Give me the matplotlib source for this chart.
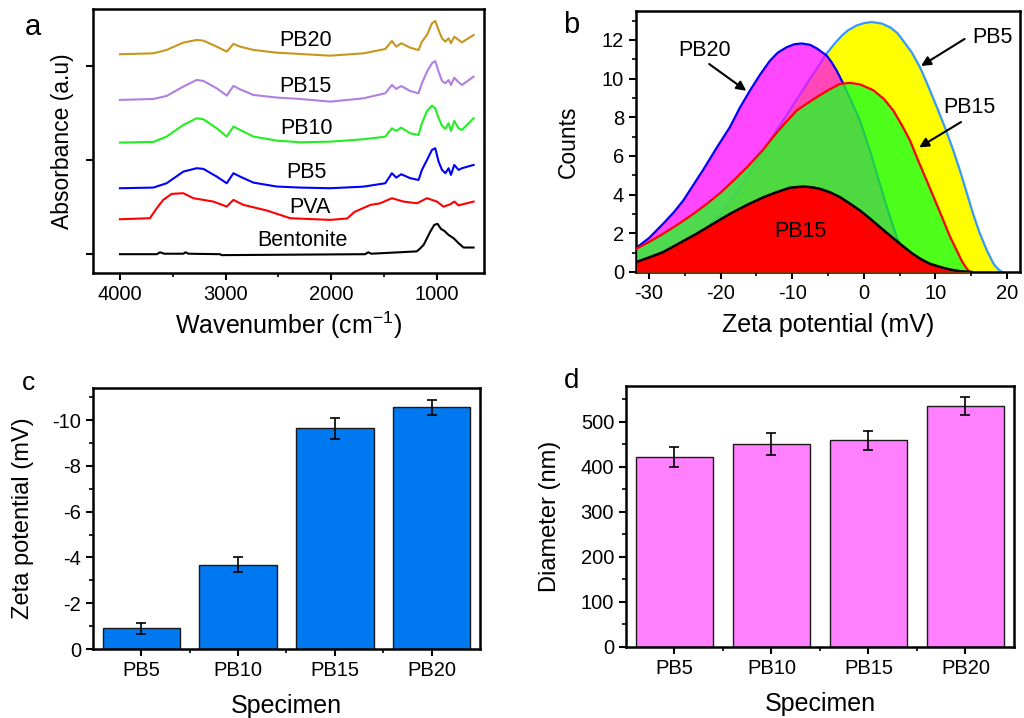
import numpy as np
import matplotlib
matplotlib.use("Agg")
import matplotlib.pyplot as plt
from matplotlib.ticker import MultipleLocator, FixedLocator, NullFormatter

plt.rcParams['font.family'] = ['Liberation Sans', 'DejaVu Sans']
plt.rcParams['axes.unicode_minus'] = False
plt.rcParams['mathtext.default'] = 'regular'

# ---- panel a: FTIR spectra (offset, arbitrary units) ----
wn_pb = [4000, 3684, 3558, 3400, 3274, 3210, 3084, 2989, 2926, 2863, 2737, 2516, 2295,
         2010, 1695, 1489, 1426, 1385, 1338, 1253, 1174, 1142, 1094, 1047, 1016, 984,
         952, 920, 890, 867, 836, 795, 763, 653]
ab_pb20 = [2.128, 2.138, 2.174, 2.252, 2.280, 2.273, 2.209, 2.156, 2.238, 2.209, 2.174, 2.145, 2.131,
           2.113, 2.138, 2.184, 2.269, 2.209, 2.245, 2.198, 2.173, 2.262, 2.333, 2.457, 2.482, 2.386,
           2.298, 2.262, 2.298, 2.245, 2.315, 2.280, 2.255, 2.333]
ab_pb15 = [1.642, 1.652, 1.684, 1.784, 1.855, 1.844, 1.766, 1.688, 1.791, 1.755, 1.695, 1.667, 1.652,
           1.624, 1.659, 1.713, 1.801, 1.759, 1.790, 1.737, 1.713, 1.819, 1.943, 2.032, 2.056, 1.943,
           1.844, 1.819, 1.854, 1.801, 1.879, 1.830, 1.801, 1.890]
ab_pb10 = [1.188, 1.195, 1.252, 1.376, 1.447, 1.436, 1.340, 1.252, 1.358, 1.323, 1.252, 1.209, 1.191,
           1.198, 1.223, 1.251, 1.340, 1.312, 1.347, 1.287, 1.269, 1.394, 1.524, 1.581, 1.553, 1.447,
           1.368, 1.333, 1.394, 1.312, 1.418, 1.340, 1.323, 1.447]
ab_pb5 = [0.702, 0.709, 0.755, 0.879, 0.915, 0.908, 0.826, 0.755, 0.862, 0.826, 0.762, 0.720, 0.709,
          0.702, 0.719, 0.755, 0.862, 0.815, 0.851, 0.809, 0.790, 0.897, 1.003, 1.110, 1.128, 0.985,
          0.897, 0.862, 0.915, 0.844, 0.950, 0.897, 0.915, 0.950]
wn_pva = [4000, 3716, 3652, 3590, 3510, 3400, 3305, 3116, 2989, 2926, 2832, 2610, 2389, 2010,
          1850, 1780, 1700, 1631, 1537, 1426, 1316, 1189, 1094, 1000, 937, 874, 836, 795, 653]
ab_pva = [0.372, 0.383, 0.489, 0.578, 0.642, 0.649, 0.596, 0.560, 0.507, 0.578, 0.525, 0.465, 0.383, 0.365,
          0.380, 0.450, 0.490, 0.524, 0.542, 0.596, 0.560, 0.542, 0.596, 0.560, 0.506, 0.531, 0.560, 0.520, 0.560]
wn_ben = [4000, 3650, 3620, 3580, 3400, 3380, 3350, 3050, 3040, 1680, 1650, 1620, 1190, 1160,
          1126, 1094, 1063, 1025, 994, 962, 930, 890, 842, 795, 748, 653]
ab_ben = [0.0, 0.0, 0.02, 0.005, 0.005, 0.02, 0.005, 0.0, -0.01, 0.0, 0.02, 0.005, 0.03, 0.06,
          0.099, 0.170, 0.240, 0.312, 0.323, 0.269, 0.248, 0.205, 0.170, 0.117, 0.071, 0.071]

# ---- panel b: zeta potential distributions ----
zx_pb5 = [-31.8, -28, -24, -20, -18, -16.35, -14.5, -13, -11.5, -10, -8.7, -7.5, -6.4, -5.4, -4,
          -3, -2.2, -1, 0, 1.1, 2.5, 3.7, 4.7, 5.5, 6.7, 7.85, 9, 10.2, 11.4, 12.5, 13.5, 14.4,
          15.3, 16.2, 17.2, 18.1, 18.6, 19.0, 19.3]
zc_pb5 = [0.4, 0.8, 1.6, 3.0, 3.9, 4.9, 6.0, 6.83, 7.7, 8.55, 9.3, 10.0, 10.6, 11.2, 11.85,
          12.25, 12.5, 12.75, 12.87, 12.93, 12.85, 12.65, 12.35, 11.96, 11.35, 10.58, 9.6, 8.52, 7.4, 6.28, 5.15, 4.05,
          2.95, 1.98, 1.1, 0.43, 0.2, 0.07, 0.0]
zx_pb20 = [-31.72, -30, -28, -26.5, -25.2, -23.8, -22.4, -20.5, -18.7, -17.3, -15.9, -14.5, -13.1,
           -12, -10.8, -9.7, -8.67, -7.5, -6.5, -5.18, -4.5, -3.78, -2.86, -1.7, -0.53, 0.8, 2.03,
           3.3, 4.59, 5.5, 6.5, 8, 10, 11]
zc_pb20 = [1.26, 1.75, 2.5, 3.1, 3.7, 4.5, 5.3, 6.45, 7.49, 8.5, 9.38, 10.2, 10.93,
           11.35, 11.62, 11.78, 11.82, 11.75, 11.55, 11.19, 10.85, 10.41, 9.73, 8.8, 7.83, 6.35, 4.82,
           3.25, 1.81, 1.1, 0.65, 0.25, 0.05, 0.0]
zx_pb15 = [-31.72, -30, -28, -26, -24, -22, -20, -18, -16.35, -14, -12.64, -11, -9.37, -8, -6.58,
           -5, -3.32, -1.9, -0.5, 1.33, 2.8, 4.12, 5.3, 6.45, 7.6, 8.77, 10, 11.1, 12, 12.96,
           13.7, 14.37, 14.8]
zc_pb15 = [1.21, 1.55, 1.98, 2.45, 2.95, 3.5, 4.1, 4.8, 5.4, 6.35, 7.0, 7.7, 8.35, 8.7, 9.04,
           9.4, 9.73, 9.78, 9.7, 9.4, 8.95, 8.35, 7.6, 6.8, 5.75, 4.73, 3.65, 2.67, 1.85, 1.12,
           0.55, 0.17, 0.0]
zx_pb15b = [-31.72, -30, -28, -25.7, -23.34, -21, -18.69, -16.3, -14.0, -12, -10.3, -8.45, -7.2,
            -6.12, -4.7, -3.32, -2, -0.53, 0.9, 2.26, 3.7, 5.06, 6.5, 7.85, 9.2, 10.65, 12, 13.4, 15.0]
zc_pb15b = [0.52, 0.75, 1.03, 1.5, 1.98, 2.5, 3.01, 3.47, 3.87, 4.15, 4.36, 4.42, 4.38,
            4.30, 4.12, 3.87, 3.55, 3.18, 2.75, 2.32, 1.87, 1.46, 1.03, 0.69, 0.43, 0.26, 0.13, 0.04, 0.0]

# ---- panels c, d ----
specimens = ['PB5', 'PB10', 'PB15', 'PB20']
zeta = [-0.90, -3.68, -9.64, -10.55]
zeta_err = [0.25, 0.33, 0.46, 0.33]
diam = [423, 451, 459, 536]
diam_err = [22, 24, 22, 20]

fig = plt.figure(figsize=(10.24, 7.18), dpi=100)
ax_a = fig.add_axes([0.0908, 0.6198, 0.3818, 0.3677])
ax_b = fig.add_axes([0.6211, 0.6212, 0.375, 0.3635])
ax_c = fig.add_axes([0.0908, 0.0961, 0.3779, 0.3635])
ax_d = fig.add_axes([0.6113, 0.0989, 0.3789, 0.3635])

tick_fs = 14.5
ann_fs = 15.5
for ax in (ax_a, ax_b, ax_c, ax_d):
    for s in ax.spines.values():
        s.set_linewidth(1.8)
    ax.tick_params(which='major', direction='out', length=5, width=1.5, labelsize=tick_fs)
    ax.tick_params(which='minor', direction='out', length=3, width=1.2)

# panel a
ax_a.plot(wn_pb, ab_pb20, color='#C8961E', lw=1.5)
ax_a.plot(wn_pb, ab_pb15, color='#B07FE0', lw=1.5)
ax_a.plot(wn_pb, ab_pb10, color='#22EE22', lw=1.5)
ax_a.plot(wn_pb, ab_pb5, color='#0000FF', lw=1.5)
ax_a.plot(wn_pva, ab_pva, color='#FF0000', lw=1.5)
ax_a.plot(wn_ben, ab_ben, color='black', lw=1.5)
labs_a = [('PB20', 2247, 2.27), ('PB15', 2247, 1.79), ('PB10', 2238, 1.34),
          ('PB5', 2238, 0.87), ('PVA', 2200, 0.50), ('Bentonite', 2269, 0.15)]
for t, x, y in labs_a:
    ax_a.text(x, y, t, fontsize=ann_fs, ha='center', va='center')
ax_a.set_xlim(4255, 555)
ax_a.set_ylim(-0.2, 2.61)
ax_a.xaxis.set_major_locator(MultipleLocator(1000))
ax_a.xaxis.set_minor_locator(MultipleLocator(500))
ax_a.yaxis.set_major_locator(FixedLocator([0, 1, 2]))
ax_a.yaxis.set_major_formatter(NullFormatter())
ax_a.set_xlabel('Wavenumber (cm$^{-1}$)', fontsize=18, labelpad=4)
ax_a.set_ylabel('Absorbance (a.u)', fontsize=16.5, labelpad=5)

# panel b
ax_b.fill_between(zx_pb5, zc_pb5, color='#FFFF00', lw=0, zorder=1)
ax_b.plot(zx_pb5, zc_pb5, color='#3399FF', lw=1.6, zorder=1.1)
ax_b.fill_between(zx_pb20, zc_pb20, color='#FF00FF', alpha=0.72, lw=0, zorder=2)
ax_b.plot(zx_pb20, zc_pb20, color='#0000FF', lw=1.6, zorder=2.1)
ax_b.fill_between(zx_pb15, zc_pb15, color='#22FF22', alpha=0.8, lw=0, zorder=3)
ax_b.plot(zx_pb15, zc_pb15, color='#FF0000', lw=1.6, zorder=3.1)
ax_b.fill_between(zx_pb15b, zc_pb15b, color='#FF0000', lw=0, zorder=4)
ax_b.plot(zx_pb15b, zc_pb15b, color='black', lw=1.8, zorder=4.1)
ax_b.set_xlim(-31.8, 21.8)
ax_b.set_ylim(0, 13.5)
ax_b.xaxis.set_major_locator(MultipleLocator(10))
ax_b.xaxis.set_minor_locator(MultipleLocator(5))
ax_b.yaxis.set_major_locator(MultipleLocator(2))
ax_b.yaxis.set_minor_locator(MultipleLocator(1))
ax_b.set_xlabel('Zeta potential (mV)', fontsize=18, labelpad=7)
ax_b.set_ylabel('Counts', fontsize=16.5, labelpad=16)
arr = dict(arrowstyle='-|>', color='black', lw=1.5, mutation_scale=14)
ax_b.text(-22.2, 11.45, 'PB20', fontsize=ann_fs, ha='center', va='center', zorder=6)
ax_b.annotate('', xy=(-16.1, 9.29), xytext=(-21.9, 10.84), arrowprops=arr, zorder=6)
ax_b.text(17.9, 12.13, 'PB5', fontsize=ann_fs, ha='center', va='center', zorder=6)
ax_b.annotate('', xy=(7.66, 10.58), xytext=(14.4, 12.13), arrowprops=arr, zorder=6)
ax_b.text(14.8, 8.52, 'PB15', fontsize=ann_fs, ha='center', va='center', zorder=6)
ax_b.annotate('', xy=(7.39, 6.37), xytext=(13.9, 7.83), arrowprops=arr, zorder=6)
ax_b.text(-8.9, 2.07, 'PB15', fontsize=ann_fs, ha='center', va='center', zorder=6)

# panel c
pos = np.arange(1, len(specimens) + 1)
ax_c.bar(pos, zeta, width=0.8, color='#0078F0', edgecolor='#1a1a1a', lw=1.0,
         yerr=zeta_err, capsize=3.5, error_kw=dict(elinewidth=1.2, capthick=1.2))
ax_c.set_xlim(0.5, 4.5)
ax_c.set_ylim(0, -11.4)
ax_c.set_xticks(pos)
ax_c.set_xticklabels(specimens)
ax_c.xaxis.set_minor_locator(FixedLocator([1.5, 2.5, 3.5]))
ax_c.yaxis.set_major_locator(MultipleLocator(2))
ax_c.yaxis.set_minor_locator(MultipleLocator(1))
ax_c.set_xlabel('Specimen', fontsize=18, labelpad=10)
ax_c.set_ylabel('Zeta potential (mV)', fontsize=17, labelpad=13)

# panel d
ax_d.bar(pos, diam, width=0.8, color='#FF80FF', edgecolor='#1a1a1a', lw=1.0,
         yerr=diam_err, capsize=3.5, error_kw=dict(elinewidth=1.2, capthick=1.2))
ax_d.set_xlim(0.5, 4.5)
ax_d.set_ylim(0, 580)
ax_d.set_xticks(pos)
ax_d.set_xticklabels(specimens)
ax_d.xaxis.set_minor_locator(FixedLocator([1.5, 2.5, 3.5]))
ax_d.yaxis.set_major_locator(MultipleLocator(100))
ax_d.yaxis.set_minor_locator(MultipleLocator(50))
ax_d.set_xlabel('Specimen', fontsize=18, labelpad=10)
ax_d.set_ylabel('Diameter (nm)', fontsize=17, labelpad=14)

fig.text(0.0325, 0.962, 'a', fontsize=21, ha='center', va='center')
fig.text(0.558, 0.965, 'b', fontsize=21, ha='center', va='center')
fig.text(0.0277, 0.467, 'c', fontsize=19, ha='center', va='center')
fig.text(0.5586, 0.470, 'd', fontsize=20, ha='center', va='center')

fig.savefig('out.png', dpi=100)
